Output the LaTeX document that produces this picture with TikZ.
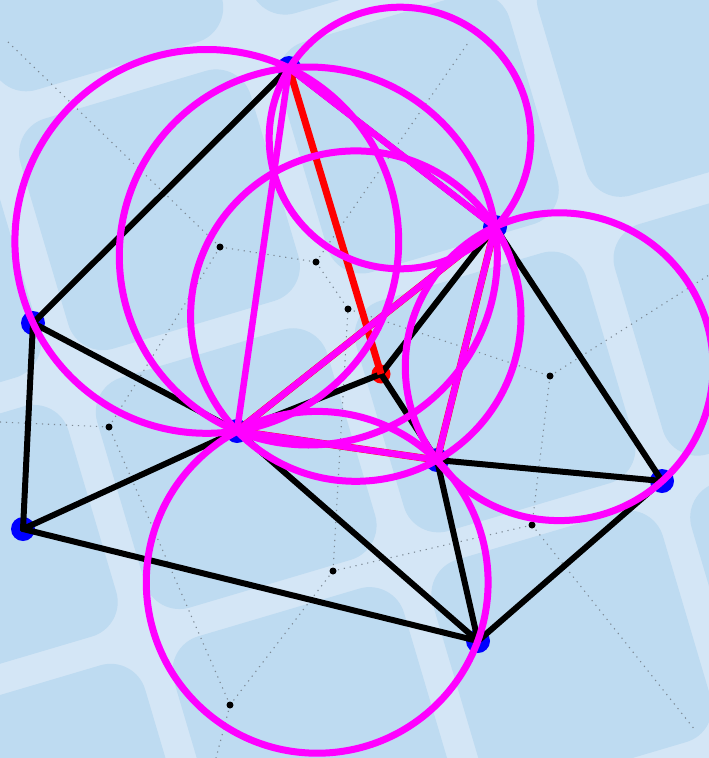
\documentclass[tikz,border=0pt]{standalone}
\definecolor{bgstripe}{RGB}{212,230,246}
\definecolor{bgsquare}{RGB}{190,219,241}
\definecolor{mag}{RGB}{255,0,255}
\definecolor{ptblue}{RGB}{0,0,255}
\definecolor{vorgray}{RGB}{125,138,150}
\begin{document}
\begin{tikzpicture}[x=1pt,y=-1pt,
  tile/.style={fill=bgsquare, rounded corners=36pt},
  vor/.style={draw=vorgray, line width=1.1pt, dash pattern=on 1.2pt off 4.8pt},
  vdot/.style={fill=black},
  bedge/.style={draw=black, line width=6pt, line cap=round},
  redge/.style={draw=red, line width=7pt},
  medge/.style={draw=mag, line width=6.5pt},
  ccirc/.style={draw=mag, line width=7pt},
  bluept/.style={fill=ptblue},
  redpt/.style={fill=red}]
\useasboundingbox (0,0) rectangle (709,758);
\clip (0,0) rectangle (709,758);
% background
\fill[bgstripe] (0,0) rectangle (709,758);
\begin{scope}[shift={(250.6,42)}, rotate=16.5]
\foreach \i in {-2,...,2}{\foreach \j in {-1,...,3}{
  \fill[tile] (\i*270+15, \j*270+15) rectangle (\i*270+255, \j*270+255);
}}
\end{scope}
% points
\coordinate (A) at (289,68);
\coordinate (B) at (495,227);
\coordinate (C) at (33,323);
\coordinate (D) at (237,431);
\coordinate (E) at (437,460);
\coordinate (F) at (662,481);
\coordinate (G) at (23,529);
\coordinate (H) at (478,641);
\coordinate (R) at (381,374);
% voronoi vertices and ends
\coordinate (v1) at (220,247);
\coordinate (v2) at (316,262);
\coordinate (v3) at (348,309);
\coordinate (v4) at (550,376);
\coordinate (v5) at (532,525);
\coordinate (v6) at (333,571);
\coordinate (v7) at (230,705);
\coordinate (v8) at (109,427);
\coordinate (e1) at (8,42);
\coordinate (e2) at (468,43);
\coordinate (e3) at (709,275);
\coordinate (e4) at (695,730);
\coordinate (e5) at (216,758);
\coordinate (e6) at (0,422);
% circle centres
\coordinate (c1) at (206.8,241.4);
\coordinate (c2) at (308.3,256.0);
\coordinate (c3) at (355.8,316.1);
\coordinate (c4) at (400,138);
\coordinate (c5) at (559.2,366.7);
\coordinate (c6) at (317.2,582.3);
% voronoi edges
\draw[vor] (e1) -- (v1);
\draw[vor] (v1) -- (v2);
\draw[vor] (v2) -- (e2);
\draw[vor] (v2) -- (v3);
\draw[vor] (v3) -- (v4);
\draw[vor] (v4) -- (e3);
\draw[vor] (v4) -- (v5);
\draw[vor] (v5) -- (e4);
\draw[vor] (v5) -- (v6);
\draw[vor] (v6) -- (v3);
\draw[vor] (v6) -- (v7);
\draw[vor] (v7) -- (e5);
\draw[vor] (v7) -- (v8);
\draw[vor] (v8) -- (e6);
\draw[vor] (v8) -- (v1);
\foreach \v in {v1,v2,v3,v4,v5,v6,v7,v8}{\fill[vdot] (\v) circle[radius=3.5pt];}
% sites
\foreach \p in {A,B,C,D,E,F,G,H}{\fill[bluept] (\p) circle[radius=12pt];}
\fill[redpt] (R) circle[radius=9.5pt];
% black edges
\draw[bedge] (A) -- (C);
\draw[bedge] (A) -- (B);
\draw[bedge] (C) -- (D);
\draw[bedge] (C) -- (G);
\draw[bedge] (G) -- (D);
\draw[bedge] (G) -- (H);
\draw[bedge] (D) -- (H);
\draw[bedge] (E) -- (H);
\draw[bedge] (E) -- (F);
\draw[bedge] (B) -- (F);
\draw[bedge] (F) -- (H);
\draw[bedge] (B) -- (R);
\draw[bedge] (R) -- (D);
\draw[bedge] (R) -- (E);
% red edges
\draw[redge] (A) -- (R);
\draw[redge] (D) -- (B);
\draw[redge] (D) -- (E);
\draw[redge] (B) -- (E);
% magenta edges
\draw[medge] (A) -- (D);
\draw[medge] (A) -- (B);
\draw[medge] (D) -- (B);
\draw[medge] (D) -- (E);
\draw[medge] (B) -- (E);
% circles
\draw[ccirc] (c1) circle[radius=191.9pt];
\draw[ccirc] (c2) circle[radius=189pt];
\draw[ccirc] (c3) circle[radius=165.2pt];
\draw[ccirc] (c4) circle[radius=130.8pt];
\draw[ccirc] (c5) circle[radius=153.9pt];
\draw[ccirc] (c6) circle[radius=170.9pt];
\end{tikzpicture}
\end{document}
